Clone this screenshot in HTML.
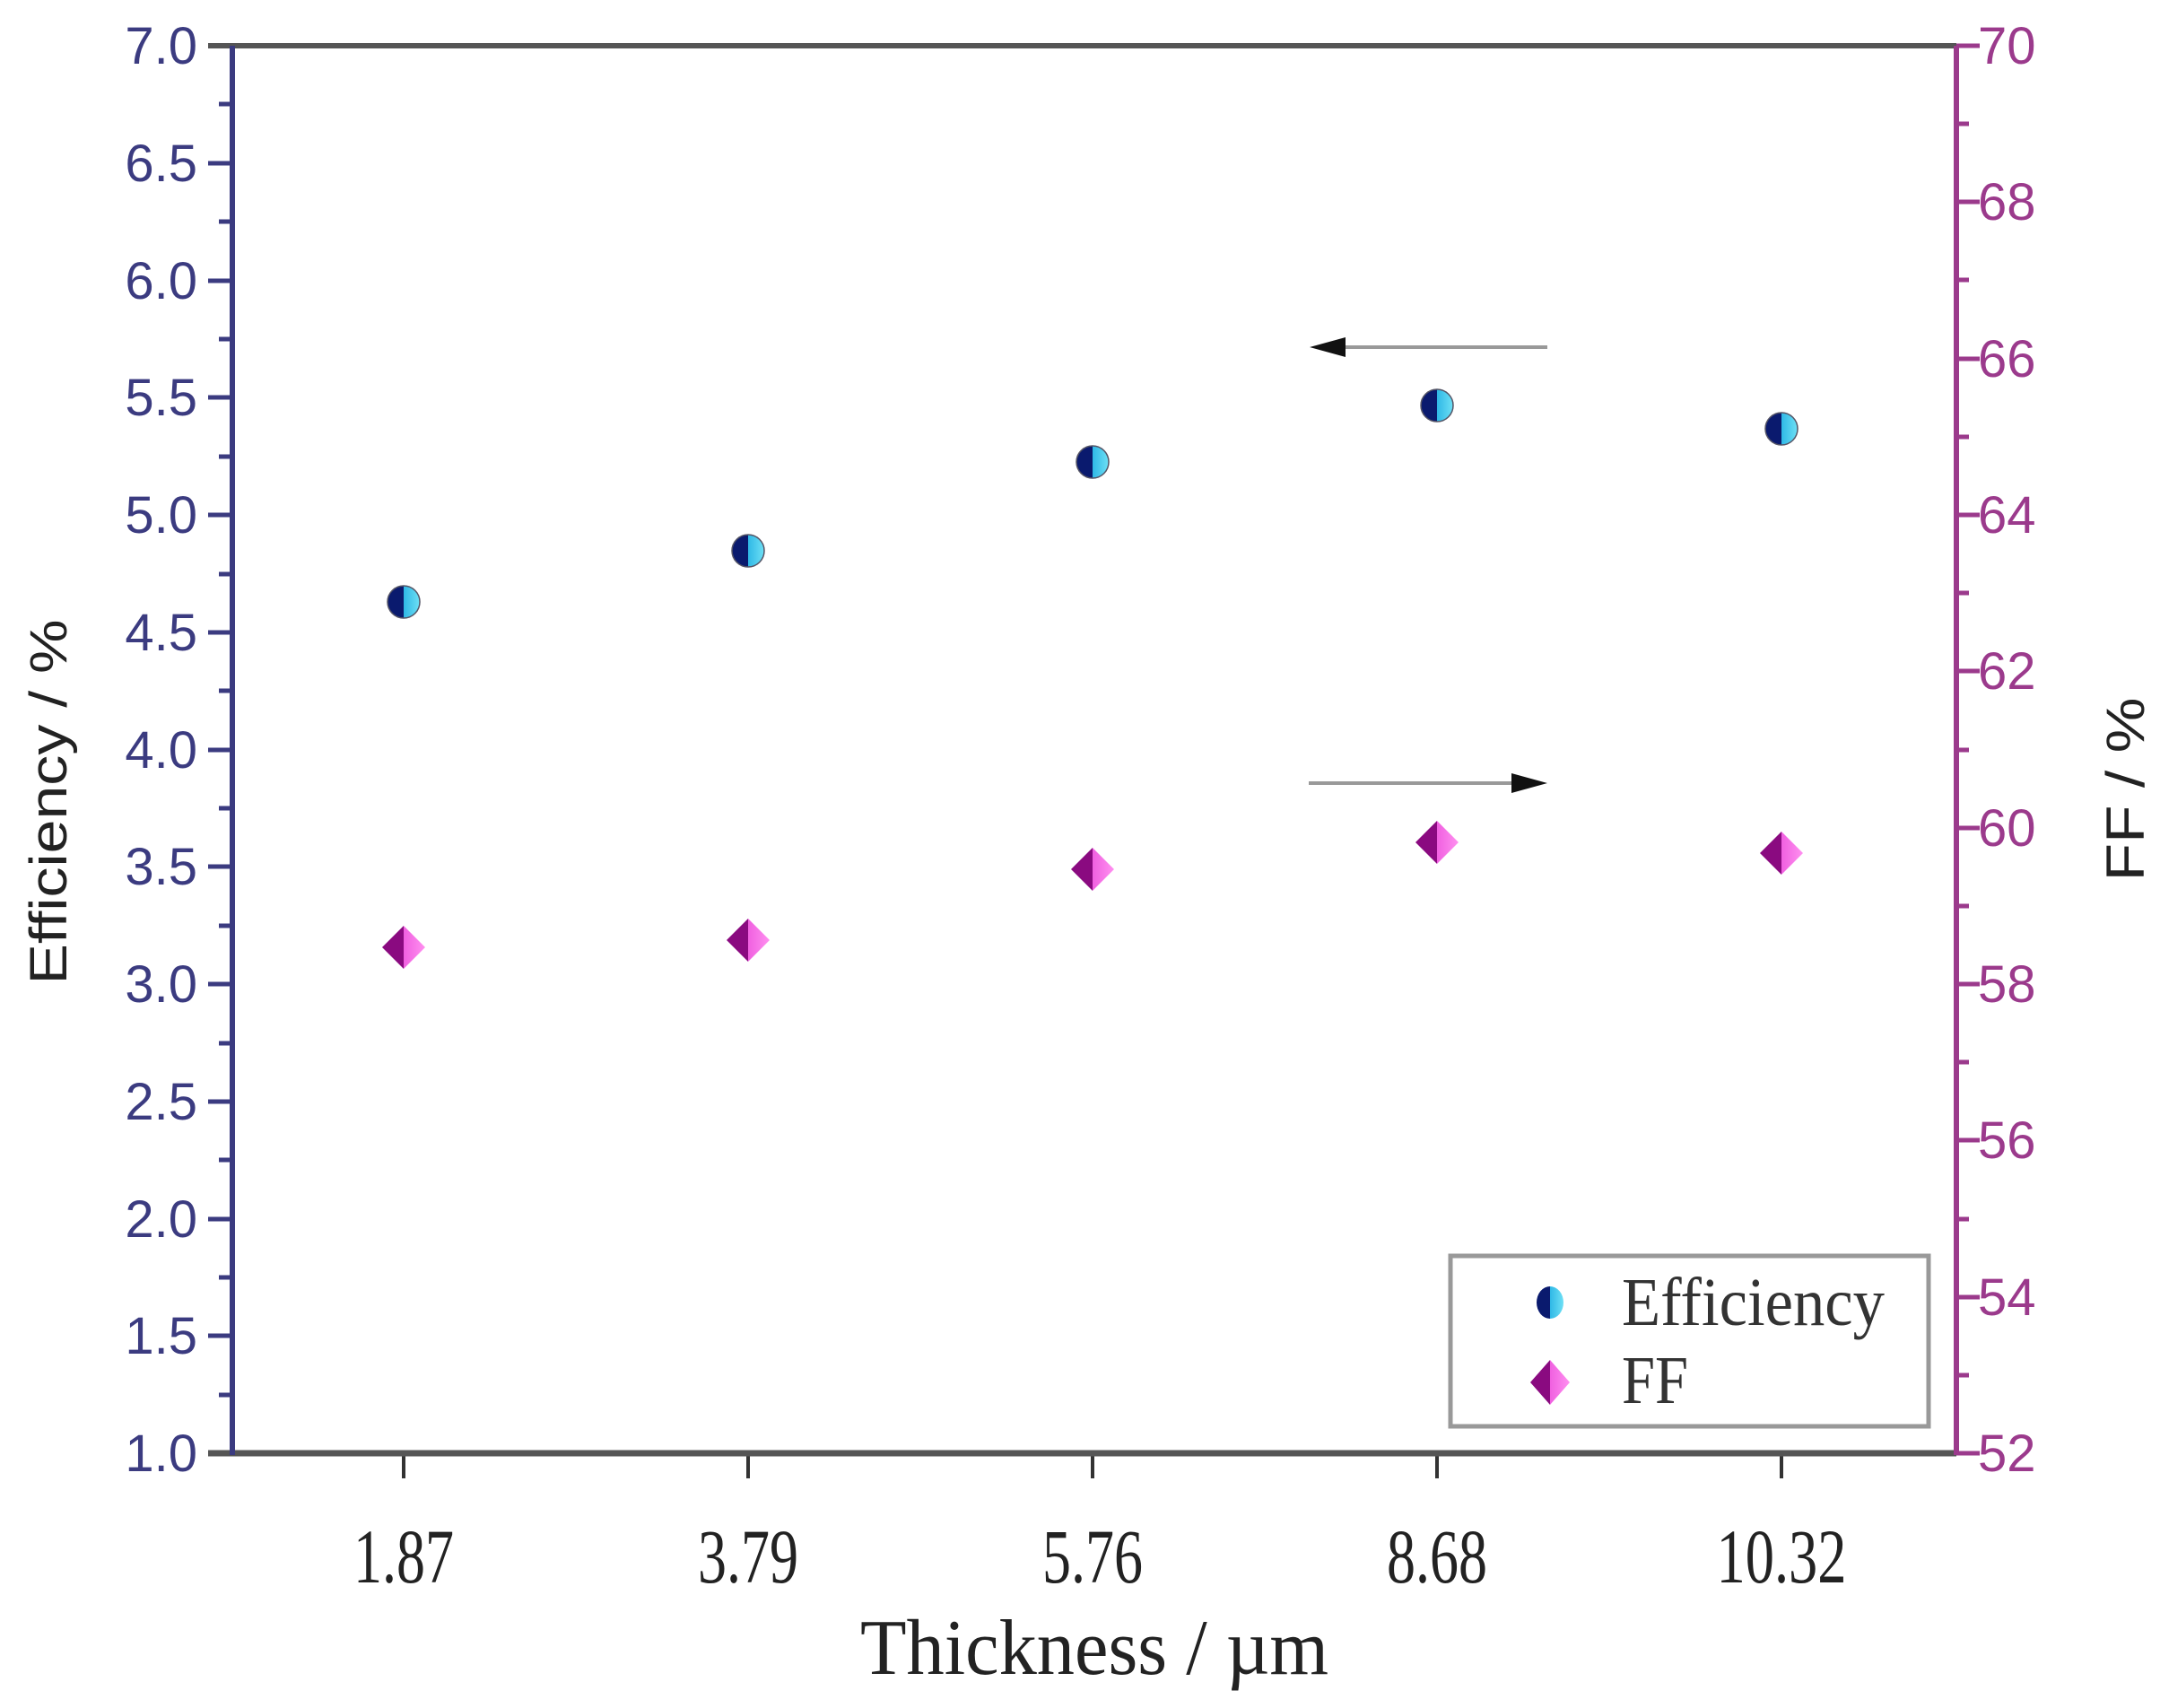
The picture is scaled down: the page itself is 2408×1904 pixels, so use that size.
<!DOCTYPE html>
<html><head><meta charset="utf-8"><style>html,body{margin:0;padding:0;background:#fff}svg{display:block}</style></head><body>
<svg xmlns="http://www.w3.org/2000/svg" width="2408" height="1904" viewBox="0 0 2408 1904">
<defs>
<linearGradient id="cg" x1="0" x2="1" y1="0" y2="0"><stop offset="0.5" stop-color="#0a1a6e"/><stop offset="0.5" stop-color="#2fb8e6"/><stop offset="1" stop-color="#6ee0f5"/></linearGradient>
<linearGradient id="dg" x1="0" x2="1" y1="0" y2="0"><stop offset="0.5" stop-color="#8a0a80"/><stop offset="0.5" stop-color="#f060e0"/><stop offset="1" stop-color="#ff90f0"/></linearGradient>
</defs>
<g font-family="Liberation Sans, sans-serif" font-size="58" fill="#3b3b80" text-anchor="end">
<text x="220" y="71">7.0</text><text x="220" y="202">6.5</text><text x="220" y="333">6.0</text><text x="220" y="463">5.5</text><text x="220" y="594">5.0</text><text x="220" y="725">4.5</text><text x="220" y="856">4.0</text><text x="220" y="986">3.5</text><text x="220" y="1117">3.0</text><text x="220" y="1248">2.5</text><text x="220" y="1379">2.0</text><text x="220" y="1509">1.5</text><text x="220" y="1640">1.0</text>
</g>
<g font-family="Liberation Sans, sans-serif" font-size="58" fill="#9b3a8c">
<text x="2205" y="71">70</text><text x="2205" y="245">68</text><text x="2205" y="420">66</text><text x="2205" y="594">64</text><text x="2205" y="768">62</text><text x="2205" y="943">60</text><text x="2205" y="1117">58</text><text x="2205" y="1291">56</text><text x="2205" y="1466">54</text><text x="2205" y="1640">52</text>
</g>
<path d="M232 51H258M244 116H258M232 182H258M244 247H258M232 313H258M244 378H258M232 443H258M244 509H258M232 574H258M244 640H258M232 705H258M244 770H258M232 836H258M244 901H258M232 966H258M244 1032H258M232 1097H258M244 1163H258M232 1228H258M244 1293H258M232 1359H258M244 1424H258M232 1489H258M244 1555H258M232 1620H258" stroke="#3b3b80" stroke-width="5"/>
<path d="M2181 51H2207M2181 138H2195M2181 225H2207M2181 312H2195M2181 400H2207M2181 487H2195M2181 574H2207M2181 661H2195M2181 748H2207M2181 836H2195M2181 923H2207M2181 1010H2195M2181 1097H2207M2181 1184H2195M2181 1271H2207M2181 1359H2195M2181 1446H2207M2181 1533H2195M2181 1620H2207" stroke="#9b3a8c" stroke-width="5"/>
<path d="M450 1620V1648M834 1620V1648M1218 1620V1648M1602 1620V1648M1986 1620V1648" stroke="#333" stroke-width="4"/>
<line x1="232" y1="51" x2="2181" y2="51" stroke="#555" stroke-width="6"/>
<line x1="232" y1="1620" x2="2181" y2="1620" stroke="#555" stroke-width="7"/>
<line x1="259" y1="51" x2="259" y2="1622" stroke="#3b3b80" stroke-width="6"/>
<line x1="2181" y1="51" x2="2181" y2="1622" stroke="#9b3a8c" stroke-width="6"/>
<g font-family="Liberation Serif, serif" font-size="86" fill="#222" text-anchor="middle">
<text x="450" y="1764" textLength="112" lengthAdjust="spacingAndGlyphs">1.87</text>
<text x="834" y="1764" textLength="112" lengthAdjust="spacingAndGlyphs">3.79</text>
<text x="1218" y="1764" textLength="112" lengthAdjust="spacingAndGlyphs">5.76</text>
<text x="1602" y="1764" textLength="112" lengthAdjust="spacingAndGlyphs">8.68</text>
<text x="1986" y="1764" textLength="145" lengthAdjust="spacingAndGlyphs">10.32</text>
<text x="1220" y="1866" font-size="88" textLength="522" lengthAdjust="spacingAndGlyphs">Thickness / µm</text>
</g>
<text transform="translate(74,894) rotate(-90)" font-family="Liberation Sans, sans-serif" font-size="58" fill="#222" text-anchor="middle" textLength="407" lengthAdjust="spacingAndGlyphs">Efficiency / %</text>
<text transform="translate(2390,880) rotate(-90)" font-family="Liberation Sans, sans-serif" font-size="60" fill="#222" text-anchor="middle" textLength="205" lengthAdjust="spacingAndGlyphs">FF / %</text>
<line x1="1725" y1="387" x2="1480" y2="387" stroke="#999" stroke-width="4"/>
<polygon points="1460,387 1500,376 1500,398" fill="#111"/>
<line x1="1459" y1="873" x2="1705" y2="873" stroke="#999" stroke-width="4"/>
<polygon points="1725,873 1685,862 1685,884" fill="#111"/>
<g stroke="#556" stroke-width="1.5">
<circle cx="450" cy="671" r="18" fill="url(#cg)"/>
<circle cx="834" cy="614" r="18" fill="url(#cg)"/>
<circle cx="1218" cy="515" r="18" fill="url(#cg)"/>
<circle cx="1602" cy="452" r="18" fill="url(#cg)"/>
<circle cx="1986" cy="478" r="18" fill="url(#cg)"/>
</g>
<g>
<polygon points="450,1032 474,1056 450,1080 426,1056" fill="url(#dg)"/>
<polygon points="834,1024 858,1048 834,1072 810,1048" fill="url(#dg)"/>
<polygon points="1218,945 1242,969 1218,993 1194,969" fill="url(#dg)"/>
<polygon points="1602,915 1626,939 1602,963 1578,939" fill="url(#dg)"/>
<polygon points="1986,927 2010,951 1986,975 1962,951" fill="url(#dg)"/>
</g>
<rect x="1617" y="1400" width="533" height="190" fill="#fff" stroke="#999" stroke-width="5"/>
<ellipse cx="1728" cy="1452" rx="15" ry="18" fill="url(#cg)"/>
<polygon points="1728,1516 1750,1541 1728,1566 1706,1541" fill="url(#dg)"/>
<g font-family="Liberation Serif, serif" font-size="76" fill="#333">
<text x="1808" y="1477" textLength="293" lengthAdjust="spacingAndGlyphs">Efficiency</text>
<text x="1808" y="1564" textLength="74" lengthAdjust="spacingAndGlyphs">FF</text>
</g>
</svg>
</body></html>
